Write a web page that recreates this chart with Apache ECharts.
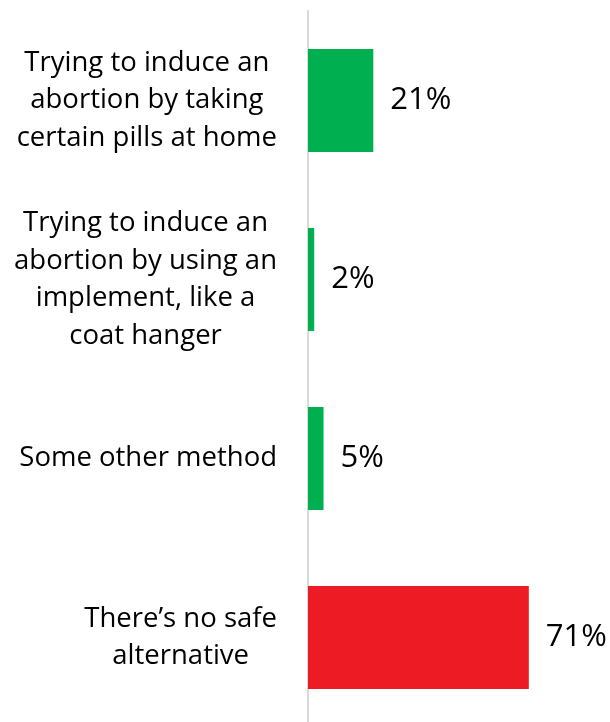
<!DOCTYPE html>
<html>
<head>
<meta charset="utf-8">
<script src="https://cdn.jsdelivr.net/npm/echarts@6/dist/echarts.min.js"></script>
<style>
  html, body { margin: 0; padding: 0; background: #fff; }
  #main { width: 610px; height: 722px; }
</style>
</head>
<body>
<div id="main"></div>
<script>
// categories, top to bottom
const categories = [
  'Trying to induce an\nabortion by taking\ncertain pills at home',
  'Trying to induce an\nabortion by using an\nimplement, like a\ncoat hanger',
  'Some other method',
  'There\u2019s no safe\nalternative'
];
const values = [21, 2, 5, 71];
const barColors = ['#00B050', '#00B050', '#00B050', '#ED1C24'];

const seriesData = [];
for (let i = 0; i < values.length; i++) {
  seriesData.push({ value: values[i], itemStyle: { color: barColors[i] } });
}

const chart = echarts.init(document.getElementById('main'));
const option = {
  backgroundColor: '#fff',
  animation: false,
  grid: { left: 308, top: 11, width: 311, height: 716, outerBoundsMode: 'none', containLabel: false },
  xAxis: {
    type: 'value',
    min: 0,
    max: 100,
    show: false
  },
  yAxis: {
    type: 'category',
    inverse: true,
    data: categories,
    axisLine: { show: true, lineStyle: { color: '#d9d9d9', width: 2 } },
    axisTick: { show: false },
    axisLabel: {
      margin: 31,
      align: 'right',
      formatter: function (value) {
        // centre each line inside the right-aligned block
        return value.split('\n').map(function (l) { return '{c|' + l + '}'; }).join('\n');
      },
      rich: {
        c: {
          align: 'center',
          color: '#000',
          fontFamily: 'Open Sans',
          fontSize: 27.5,
          lineHeight: 37.5
        }
      }
    }
  },
  series: [{
    type: 'bar',
    barWidth: 103,
    data: seriesData,
    label: {
      show: true,
      position: 'right',
      distance: 17,
      formatter: '{c}%',
      color: '#000',
      fontFamily: 'Open Sans',
      fontSize: 31
    }
  }]
};
chart.setOption(option);
</script>
</body>
</html>
